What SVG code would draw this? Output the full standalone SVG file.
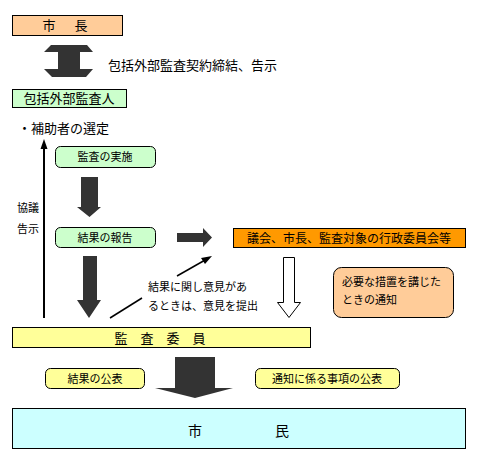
<svg xmlns="http://www.w3.org/2000/svg" width="477" height="461" viewBox="0 0 477 461">
<style>
text{font-family:"Noto Sans CJK JP","Noto Sans CJK SC",sans-serif;fill:#000}
.box{stroke:#000;stroke-width:1}
.rbox{stroke:#000;stroke-width:1}
.t14{font-size:14px}
.t13{font-size:13px}
.t12{font-size:12px}
.t11{font-size:11px}
.dark{fill:#333;stroke:none}
.line{stroke:#000;stroke-width:2;fill:none}
</style>
<rect width="477" height="461" fill="#fff"/>

<g id="mayor">
<rect class="box" x="12.5" y="15.5" width="110" height="20" fill="#FFCC99"/>
<text class="t13" x="49" y="30" text-anchor="middle">市</text>
<text class="t13" x="81" y="30" text-anchor="middle">長</text>
</g>

<g id="outside-auditor">
<rect class="box" x="12.5" y="89.5" width="114" height="18" fill="#CCFFCC"/>
<text class="t13" x="69" y="103" text-anchor="middle">包括外部監査人</text>
</g>

<g id="assistant-label">
<text class="t13" x="18" y="133">・補助者の選定</text>
</g>

<g id="audit-exec">
<rect class="rbox" x="55.5" y="146.5" width="100" height="21" rx="5" fill="#CCFFCC"/>
<text class="t11" x="105" y="161" text-anchor="middle">監査の実施</text>
</g>

<g id="result-report">
<rect class="rbox" x="55.5" y="227.5" width="100" height="20" rx="5" fill="#CCFFCC"/>
<text class="t11" x="105" y="241.5" text-anchor="middle">結果の報告</text>
</g>

<g id="council">
<rect class="box" x="233.5" y="228.5" width="232" height="19" fill="#FF9900"/>
<text class="t12" x="349" y="242.5" text-anchor="middle">議会、市長、監査対象の行政委員会等</text>
</g>

<g id="measures-notice">
<rect class="rbox" x="333.5" y="267.5" width="120" height="50" rx="8" fill="#FFCC99"/>
<text class="t11" x="342" y="286">必要な措置を講じた</text>
<text class="t11" x="342" y="304">ときの通知</text>
</g>

<g id="audit-committee">
<rect class="box" x="12.5" y="327.5" width="298" height="20" fill="#FFFF99"/>
<text class="t13" x="160" y="342.5" text-anchor="middle">監　査　委　員</text>
</g>

<g id="result-publish">
<rect class="rbox" x="45.5" y="368.5" width="99" height="20" rx="5" fill="#FFFF99"/>
<text class="t11" x="95" y="382.5" text-anchor="middle">結果の公表</text>
</g>

<g id="notice-publish">
<rect class="rbox" x="255.5" y="368.5" width="144" height="20" rx="5" fill="#FFFF99"/>
<text class="t11" x="327" y="382.5" text-anchor="middle">通知に係る事項の公表</text>
</g>

<g id="citizens">
<rect class="box" x="12.5" y="408.5" width="453" height="40" fill="#CCFFFF"/>
<text class="t14" x="195" y="436" text-anchor="middle">市</text>
<text class="t14" x="282" y="436" text-anchor="middle">民</text>
</g>

<g id="connectors">
<polygon class="dark" points="51,45 87,45 93,52 80,52 80,69 93,69 86,77 52,77 44,69 58,69 58,52 44,52"/>
<text class="t13" x="108" y="70">包括外部監査契約締結、告示</text>

<line class="line" x1="44" y1="318" x2="44" y2="148"/>
<polygon points="40.5,149 44,139 47.5,149" fill="#000"/>
<text class="t11" x="17" y="212">協議</text>
<text class="t11" x="17" y="233">告示</text>

<polygon class="dark" points="81,177 98,177 98,207 101,207 89.5,217 77,207 81,207"/>
<polygon class="dark" points="177,233 203,233 203,228 212,237.5 203,247 203,242 177,242"/>
<polygon class="dark" points="83,256 97,256 97,300 101,300 89,318 77,300 83,300"/>

<line stroke="#000" stroke-width="1.5" x1="110" y1="318" x2="142" y2="298"/>
<line stroke="#000" stroke-width="1.5" x1="177" y1="276" x2="206" y2="259.5"/>
<polygon points="212,256 201,258 205,264" fill="#000"/>
<text class="t11" x="148" y="291">結果に関し意見があ</text>
<text class="t11" x="148" y="310">るときは、意見を提出</text>

<polygon points="283.5,257.5 294.5,257.5 294.5,302.5 300.5,302.5 289,317.5 277.5,302.5 283.5,302.5" fill="#fff" stroke="#000" stroke-width="1"/>

<polygon class="dark" points="175,357 215,357 215,388 233,388 195,398 155,388 175,388"/>
</g>
</svg>
